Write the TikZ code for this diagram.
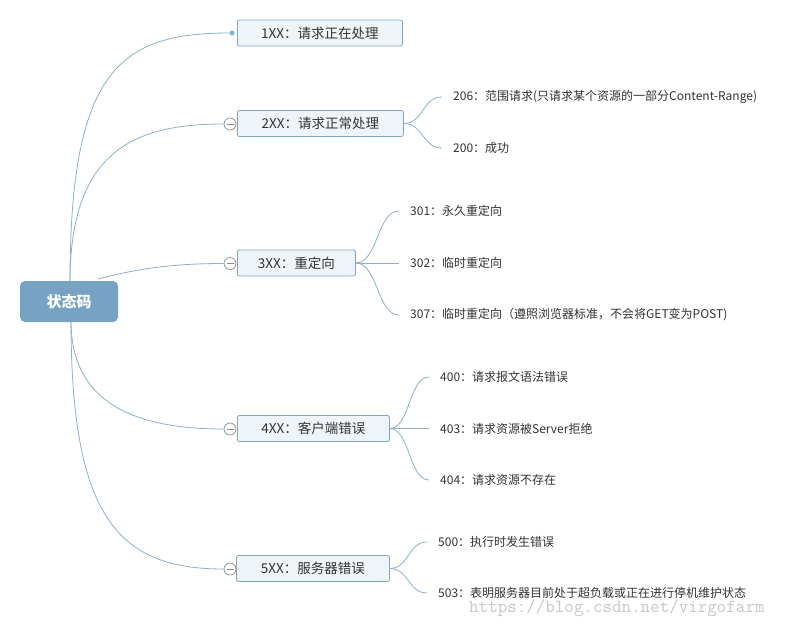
\documentclass[tikz,border=0pt]{standalone}
\usepackage{fontspec}
\newfontfamily\cjk{Noto Sans CJK SC}
\usepackage{tikz}
\usetikzlibrary{positioning}
\definecolor{rootblue}{RGB}{118,163,195}
\definecolor{boxfill}{RGB}{239,244,248}
\definecolor{boxline}{RGB}{125,167,201}
\definecolor{linkblue}{RGB}{138,176,204}
\definecolor{foldgray}{RGB}{140,140,140}
\definecolor{txt}{RGB}{51,51,51}
\tikzset{
  root/.style={rectangle, rounded corners=5pt, fill=rootblue, text=white,
    minimum width=98pt, minimum height=41pt, font=\cjk\fontsize{15}{18}\selectfont\bfseries},
  cat/.style={rectangle, rounded corners=2pt, draw=boxline, fill=boxfill, text=txt,
    line width=0.8pt, anchor=west, minimum height=26pt, inner xsep=0pt,
    font=\cjk\fontsize{13.5}{16}\selectfont},
  leaf/.style={anchor=west, inner xsep=11pt, inner ysep=2pt, text=txt,
    font=\cjk\fontsize{12}{14}\selectfont},
  link/.style={draw=linkblue, line width=0.8pt},
  fold/.style={circle, draw=foldgray, fill=white, minimum size=12pt, inner sep=0pt,
    line width=0.7pt,
    path picture={\draw[foldgray, line width=0.7pt]
      ([xshift=2.5pt]path picture bounding box.west) --
      ([xshift=-2.5pt]path picture bounding box.east);}},
  knob/.style={circle, fill=linkblue, minimum size=5pt, inner sep=0pt}
}
\begin{document}
\begin{tikzpicture}[x=1pt,y=-1pt]
\useasboundingbox[fill=white] (0,0) rectangle (792,627);
% main branches
\node[cat, minimum width=165pt] (x1) at (237,33) {1XX：请求正在处理};
\node[cat, minimum width=166pt] (x2) at (237,123.5) {2XX：请求正常处理};
\node[cat, minimum width=118pt] (x3) at (237,263) {3XX：重定向};
\node[cat, minimum width=152pt] (x4) at (237,428.5) {4XX：客户端错误};
\node[cat, minimum width=153pt] (x5) at (236,568.5) {5XX：服务器错误};
\node[knob] (k1) at (232,33) {};
\node[fold] (f2) at (230,124) {};
\node[fold] (f3) at (230,263.5) {};
\node[fold] (f4) at (230,429) {};
\node[fold] (f5) at (230,569) {};
\coordinate (rt) at (70,282);
\coordinate (rr) at (98,279);
\coordinate (rb) at (71,321);
\draw[link] (rt) .. controls (70,70) and (120,33) .. (k1);
\draw[link] (rt) .. controls (70,150) and (135,124) .. (f2.west);
\draw[link] (rr) .. controls (140,268) and (175,263.5) .. (f3.west);
\draw[link] (rb) .. controls (71,400) and (130,429) .. (f4.west);
\draw[link] (rb) .. controls (71,520) and (120,569) .. (f5.west);
\node[root] (root) at (69,301.5) {状态码};
% leaves
\node[leaf] (x2a) at (442,97) {206：范围请求(只请求某个资源的一部分Content-Range)};
\node[leaf] (x2b) at (442,148) {200：成功};
\node[leaf] (x3a) at (399,211) {301：永久重定向};
\node[leaf] (x3b) at (399,263) {302：临时重定向};
\node[leaf] (x3c) at (399,315) {307：临时重定向（遵照浏览器标准，不会将GET变为POST)};
\node[leaf] (x4a) at (429,377) {400：请求报文语法错误};
\node[leaf] (x4b) at (429,428.5) {403：请求资源被Server拒绝};
\node[leaf] (x4c) at (429,480) {404：请求资源不存在};
\node[leaf] (x5a) at (427,542) {500：执行时发生错误};
\node[leaf] (x5b) at (427,593) {503：表明服务器目前处于超负载或正在进行停机维护状态};
\foreach \l in {x2a,x2b}
  \draw[link] (x2.east) .. controls +(20,0) and +(-20,0) .. (\l.west);
\foreach \l in {x3a,x3c}
  \draw[link] (x3.east) .. controls +(22,0) and +(-22,0) .. (\l.west);
\draw[link] (x3.east) -- (x3b.west);
\foreach \l in {x4a,x4c}
  \draw[link] (x4.east) .. controls +(20,0) and +(-20,0) .. (\l.west);
\draw[link] (x4.east) -- (x4b.west);
\foreach \l in {x5a,x5b}
  \draw[link] (x5.east) .. controls +(19,0) and +(-19,0) .. (\l.west);
\node[anchor=west, inner sep=0pt, text=black!22, font=\ttfamily\fontsize{18.5}{20}\selectfont]
  (wm) at (469,608) {https://blog.csdn.net/virgofarm};
\end{tikzpicture}
\end{document}
